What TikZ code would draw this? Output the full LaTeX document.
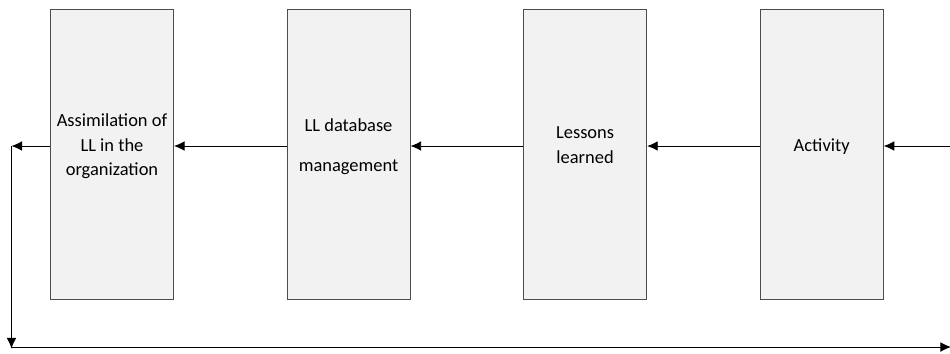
\documentclass[tikz,border=0pt]{standalone}
\usepackage{fontspec}
\setmainfont{Carlito}
\usetikzlibrary{shapes,arrows.meta,positioning}
\tikzset{
block/.style={rectangle, draw=black!70, fill=black!5, line width=0.6pt, text centered,
  minimum width=2.46cm, minimum height=5.8cm, inner xsep=1pt, align=center, text depth=11pt,
  font=\fontsize{10.5}{14}\selectfont},
line/.style={draw, line width=0.5pt, -{Latex[length=6pt,width=5.5pt]}}
}

\begin{document}
\begin{tikzpicture}[node distance = 2.25cm, auto]
    \useasboundingbox (0,0) rectangle (19,-7.06);
    % Place nodes
    \node [block] (assimilation) at (2.24,-3.09) {Assimilation of\\LL in the\\organization};
    \node [block, right=of assimilation] (database) {LL database\\[9pt]management};
    \node [block, right=of database] (lessons) {Lessons\\learned};
    \node [block, right=of lessons] (activity) {Activity};
    \coordinate (left) at (0.23,-2.92);
    \coordinate (bottomleft) at (0.23,-6.97);
    \coordinate (bottomright) at (19.02,-6.94);
    \coordinate (entry) at (19.1,-2.92);
    % Draw edges
    \path [line] (entry) -- ([yshift=0.17cm]activity.east);
    \path [line] ([yshift=0.17cm]activity.west) -- ([yshift=0.17cm]lessons.east);
    \path [line] ([yshift=0.17cm]lessons.west) -- ([yshift=0.17cm]database.east);
    \path [line] ([yshift=0.17cm]database.west) -- ([yshift=0.17cm]assimilation.east);
    \path [line] ([yshift=0.17cm]assimilation.west) -- (left);
    \path [line] (left) -- (bottomleft);
    \path [line] (bottomleft |- bottomright) -- (bottomright);
\end{tikzpicture}
\end{document}
